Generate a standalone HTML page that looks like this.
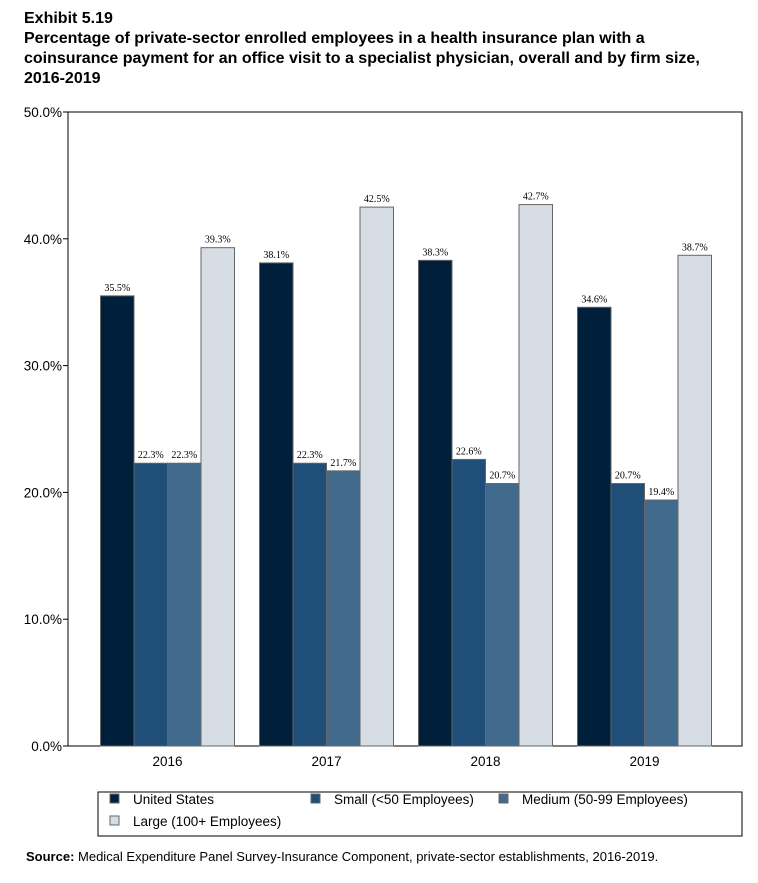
<!DOCTYPE html>
<html><head><meta charset="utf-8"><style>
body{margin:0;background:#fff;width:758px;height:883px;overflow:hidden;font-family:"Liberation Sans",sans-serif}
.title{position:absolute;left:24px;top:9px;white-space:nowrap;font-weight:bold;font-size:16px;line-height:20px;color:#000}
</style></head><body>
<div class="title">Exhibit 5.19<br>Percentage of private-sector enrolled employees in a health insurance plan with a<br>coinsurance payment for an office visit to a specialist physician, overall and by firm size,<br>2016-2019</div>
<svg id="c" width="758" height="883" style="position:absolute;left:0;top:0"></svg>
<script>
const categories=["2016","2017","2018","2019"];
const seriesNames=["United States","Small (<50 Employees)","Medium (50-99 Employees)","Large (100+ Employees)"];
const usValues=[35.5,38.1,38.3,34.6];
const smallValues=[22.3,22.3,22.6,20.7];
const mediumValues=[22.3,21.7,20.7,19.4];
const largeValues=[39.3,42.5,42.7,38.7];
const yTicks=[0,10,20,30,40,50];
const colors=["#001f3a","#1f4e79","#416a8c","#d6dde4"];
const NS="http://www.w3.org/2000/svg";
const svg=document.getElementById('c');
function mk(t,a,p){const e=document.createElementNS(NS,t);for(const k in a)e.setAttribute(k,a[k]);(p||svg).appendChild(e);return e;}
const top0=112,bot=746,left=68,right=742;
const y=v=>bot-(v/50)*(bot-top0);
const bandStart=88,band=159,barW=33.5,pad=12.5;
const x=(i,s)=>bandStart+i*band+pad+s*barW;
let f=mk('rect',{x:left,y:top0,width:right-left,height:bot-top0,fill:'none',stroke:'#000','stroke-width':1});

yTicks.forEach(t=>{
 let l=mk('line',{x1:left-5,x2:left,y1:y(t),y2:y(t),stroke:'#000'});
 
 let tx=mk('text',{x:left-6,y:y(t)+5,'text-anchor':'end','font-size':13.5,fill:'#000'});
 tx.textContent=t.toFixed(1)+'%';
 
});
const all=[usValues,smallValues,mediumValues,largeValues];
categories.forEach((c,i)=>{
 all.forEach((arr,s)=>{
  const v=arr[i];
  let r=mk('rect',{x:x(i,s),y:y(v),width:barW,height:bot-y(v),fill:colors[s],stroke:'#666','stroke-width':1});
  
  let t=mk('text',{x:x(i,s)+barW/2,y:y(v)-5,'text-anchor':'middle','font-size':10,'font-family':'Liberation Serif, serif',fill:'#000'});
  t.textContent=v.toFixed(1)+'%';
  
 });
 let t=mk('text',{x:bandStart+i*band+band/2,y:766,'text-anchor':'middle','font-size':13.5,fill:'#000'});
 t.textContent=c;
 
});
let lg=mk('rect',{x:98,y:792,width:644,height:44,fill:'#fff',stroke:'#000'});

const lpos=[[110,803],[311,803],[499,803],[110,825]];
seriesNames.forEach((n,s)=>{
 let r=mk('rect',{x:lpos[s][0],y:lpos[s][1]-9,width:9,height:9,fill:colors[s],stroke:'#666'});
 
 let t=mk('text',{x:lpos[s][0]+23,y:lpos[s][1]+1,'font-size':13.5,fill:'#000'});
 t.textContent=n;
 
});
let src=mk('text',{x:26,y:861,'font-size':13,fill:'#000'});
src.innerHTML='<tspan font-weight="bold">Source:</tspan> Medical Expenditure Panel Survey-Insurance Component, private-sector establishments, 2016-2019.';

</script>
</body></html>
